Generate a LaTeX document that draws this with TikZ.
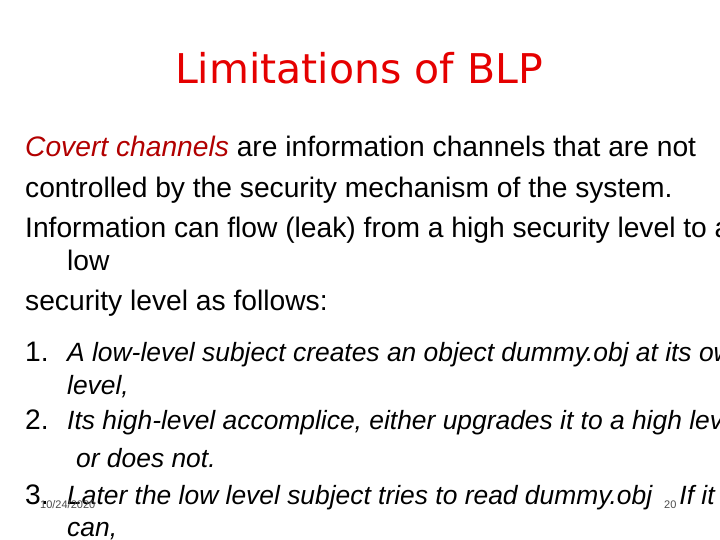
\documentclass[tikz,border=0pt]{standalone}
\usepackage{fontspec}
\setmainfont{Liberation Sans}
\newfontfamily\titlefont{DejaVu Sans}
\begin{document}
\begin{tikzpicture}[x=1pt,y=-1pt,
  body/.style={anchor=base west,inner sep=0,font=\fontsize{28.2}{30}\selectfont},
  item/.style={body,font=\fontsize{26.4}{30}\selectfont\itshape},
  foot/.style={anchor=base west,inner sep=0,font=\fontsize{11}{12}\selectfont,text=black!70}]
\useasboundingbox (0,0) rectangle (720,540);
\clip (0,0) rectangle (720,540);
\fill[white] (0,0) rectangle (720,540);
\node[anchor=center,inner sep=0,text=red!90!black,font=\titlefont\fontsize{41}{46}\selectfont] (title) at (359,68) {Limitations of BLP};
\node[body] (l1) at (25,157) {\textcolor{red!70!black}{\itshape Covert channels} are information channels that are not};
\node[body] (l2) at (25,197) {controlled by the security mechanism of the system.};
\node[body] (l3) at (25,237) {Information can flow (leak) from a high security level to a};
\node[body] (l4) at (67,270) {low};
\node[body] (l5) at (25,310) {security level as follows:};
\node[body] (n1) at (25,361) {1.};
\node[item] (i1) at (67,361) {A low-level subject creates an object dummy.obj at its own};
\node[item] (i1b) at (67,394) {level,};
\node[body] (n2) at (25,429) {2.};
\node[item] (i2) at (67,429) {Its high-level accomplice, either upgrades it to a high level};
\node[item] (i2b) at (76,467) {or does not.};
\node[body] (n3) at (25,504) {3.};
\node[item] (i3) at (67,504) {Later the low level subject tries to read dummy.obj \hspace{20pt}If it};
\node[item] (i3b) at (67,536) {can,};
\node[foot] (date) at (40,508) {10/24/2020};
\node[foot] (page) at (664,508) {20};
\end{tikzpicture}
\end{document}
